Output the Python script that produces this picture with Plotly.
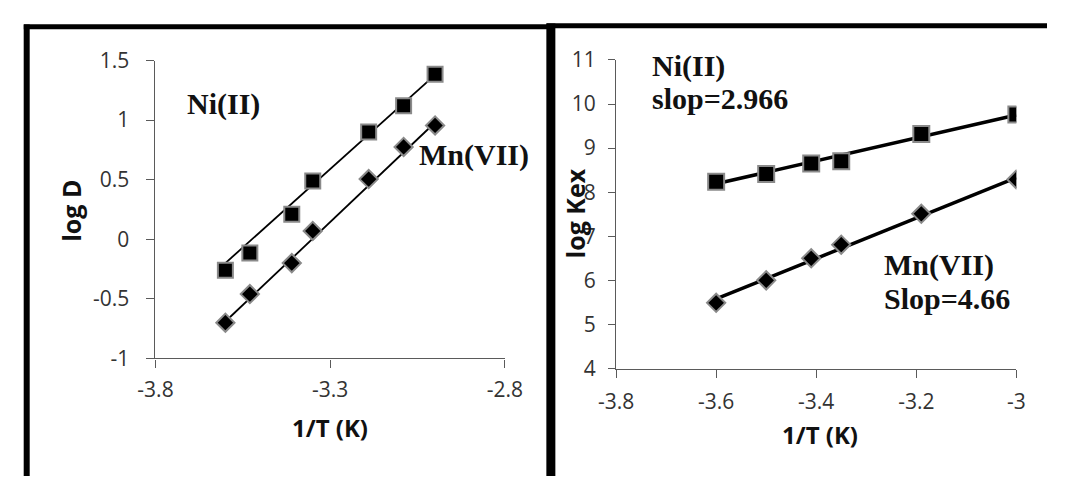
import plotly.graph_objects as go

W, H = 1065, 489

# ---------------- data ----------------
# Left panel: log D vs 1/T
x_left = [-3.6, -3.53, -3.41, -3.35, -3.19, -3.09, -3.0]
ni_logD = [-0.26, -0.115, 0.21, 0.49, 0.90, 1.12, 1.385]
mn_logD = [-0.70, -0.46, -0.20, 0.07, 0.505, 0.775, 0.955]
# trend lines (end points)
fit_x_left = [-3.6, -3.0]
ni_fit_left = [-0.20, 1.38]
mn_fit_left = [-0.69, 0.98]

# Right panel: log Kex vs 1/T
x_right = [-3.6, -3.5, -3.41, -3.35, -3.19, -3.0]
ni_logK = [8.235, 8.415, 8.65, 8.70, 9.32, 9.765]
mn_logK = [5.49, 6.0, 6.5, 6.81, 7.51, 8.29]
fit_x_right = [-3.6, -3.0]
ni_fit_right = [8.19, 9.75]
mn_fit_right = [5.58, 8.33]

# tick labels
left_xticks = [-3.8, -3.3, -2.8]
left_xtext = ["-3.8", "-3.3", "-2.8"]
left_yticks = [-1, -0.5, 0, 0.5, 1, 1.5]
left_ytext = ["-1", "-0.5", "0", "0.5", "1", "1.5"]
right_xticks = [-3.8, -3.6, -3.4, -3.2, -3.0]
right_xtext = ["-3.8", "-3.6", "-3.4", "-3.2", "-3"]
right_yticks = [4, 5, 6, 7, 8, 9, 10, 11]
right_ytext = ["4", "5", "6", "7", "8", "9", "10", "11"]


def px(x):
    return x / W


def py(y):
    return 1 - y / H


TICK_FONT = dict(family="Open Sans", size=21, color="#333333")
XTITLE_FONT = dict(family="Open Sans", size=24, color="#111111")
YTITLE_FONT = dict(family="Open Sans", size=25, color="#111111")
LABEL_FONT = dict(family="Liberation Serif", size=30, color="#111111")
AXIS_COL = "#5a5a5a"

fig = go.Figure()

# ---- left panel ----
fig.add_trace(go.Scatter(x=fit_x_left, y=ni_fit_left, mode="lines",
                         line=dict(color="black", width=1.8),
                         xaxis="x", yaxis="y", showlegend=False))
fig.add_trace(go.Scatter(x=fit_x_left, y=mn_fit_left, mode="lines",
                         line=dict(color="black", width=1.8),
                         xaxis="x", yaxis="y", showlegend=False))
fig.add_trace(go.Scatter(x=x_left, y=ni_logD, mode="markers",
                         marker=dict(symbol="square", size=15, color="black",
                                     line=dict(color="#8a8a8a", width=2)),
                         xaxis="x", yaxis="y", showlegend=False))
fig.add_trace(go.Scatter(x=x_left, y=mn_logD, mode="markers",
                         marker=dict(symbol="diamond", size=14, color="black",
                                     line=dict(color="#8a8a8a", width=2)),
                         xaxis="x", yaxis="y", showlegend=False))

# ---- right panel ----
fig.add_trace(go.Scatter(x=fit_x_right, y=ni_fit_right, mode="lines",
                         line=dict(color="black", width=3.5),
                         xaxis="x2", yaxis="y2", showlegend=False))
fig.add_trace(go.Scatter(x=fit_x_right, y=mn_fit_right, mode="lines",
                         line=dict(color="black", width=3.5),
                         xaxis="x2", yaxis="y2", showlegend=False))
fig.add_trace(go.Scatter(x=x_right, y=ni_logK, mode="markers",
                         marker=dict(symbol="square", size=16, color="black",
                                     line=dict(color="#8a8a8a", width=2)),
                         xaxis="x2", yaxis="y2", showlegend=False))
fig.add_trace(go.Scatter(x=x_right, y=mn_logK, mode="markers",
                         marker=dict(symbol="diamond", size=14, color="black",
                                     line=dict(color="#8a8a8a", width=2)),
                         xaxis="x2", yaxis="y2", showlegend=False))

axis_common = dict(showgrid=False, zeroline=False, showline=True,
                   linecolor=AXIS_COL, linewidth=1.2, ticks="outside",
                   tickcolor=AXIS_COL, tickwidth=1.2, tickfont=TICK_FONT)

fig.update_layout(
    width=W, height=H,
    margin=dict(l=0, r=0, t=0, b=0),
    paper_bgcolor="white", plot_bgcolor="white",
    xaxis=dict(domain=[px(142.3), px(504)], range=[-3.8, -2.8],
               tickvals=left_xticks, ticktext=left_xtext, ticklen=8,
               ticklabelstandoff=4, anchor="y", **axis_common),
    yaxis=dict(domain=[py(364.3), py(48.3)], range=[-1, 1.5],
               tickvals=left_yticks, ticktext=left_ytext, ticklen=8,
               ticklabelstandoff=13, anchor="x", **axis_common),
    xaxis2=dict(domain=[px(619), px(1033.3)], range=[-3.8, -3.0],
                tickvals=right_xticks, ticktext=right_xtext, ticklen=8,
                ticklabelstandoff=6, anchor="y2", **axis_common),
    yaxis2=dict(domain=[py(375), py(47.7)], range=[4, 11],
                tickvals=right_yticks, ticktext=right_ytext, ticklen=7,
                ticklabelstandoff=8, anchor="x2", **axis_common),
)

ann = []
# axis titles
ann.append(dict(x=px(54), y=py(207.5), xref="paper", yref="paper", text="<b>log D</b>",
                textangle=-90, showarrow=False, font=YTITLE_FONT,
                xanchor="center", yanchor="middle"))
ann.append(dict(x=px(322.7), y=py(437.7), xref="paper", yref="paper", text="<b>1/T (K)</b>",
                showarrow=False, font=XTITLE_FONT, xanchor="center", yanchor="middle"))
ann.append(dict(x=px(576), y=py(211), xref="paper", yref="paper", text="<b>log Kex</b>",
                textangle=-90, showarrow=False, font=YTITLE_FONT,
                xanchor="center", yanchor="middle"))
ann.append(dict(x=px(830), y=py(445), xref="paper", yref="paper", text="<b>1/T (K)</b>",
                showarrow=False, font=XTITLE_FONT, xanchor="center", yanchor="middle"))
# series labels
for txt, xl, yc in [("Ni(II)", 172.7, 94), ("Mn(VII)", 413.3, 149),
                    ("Ni(II)", 654, 54), ("slop=2.966", 654, 89),
                    ("Mn(VII)", 894, 265.5), ("Slop=4.66", 894, 300.5)]:
    ann.append(dict(x=px(xl), y=py(yc), xref="paper", yref="paper",
                    text="<b>" + txt + "</b>", showarrow=False, font=LABEL_FONT,
                    xanchor="left", yanchor="middle"))
fig.update_layout(annotations=ann)

# panel borders
shapes = [
    dict(type="line", xref="paper", yref="paper", x0=px(9), x1=px(9), y0=py(10), y1=py(489), line=dict(color="black", width=6)),
    dict(type="line", xref="paper", yref="paper", x0=px(6), x1=px(551), y0=py(12.5), y1=py(12.5), line=dict(color="black", width=5)),
    dict(type="line", xref="paper", yref="paper", x0=px(551.5), x1=px(551.5), y0=py(9), y1=py(489), line=dict(color="black", width=9)),
    dict(type="line", xref="paper", yref="paper", x0=px(547), x1=px(1065), y0=py(11.5), y1=py(11.5), line=dict(color="black", width=5)),
]
fig.update_layout(shapes=shapes)

fig.write_html(
    "out.html",
    post_script="document.body.style.margin='0';document.body.style.overflow='hidden';",
)
